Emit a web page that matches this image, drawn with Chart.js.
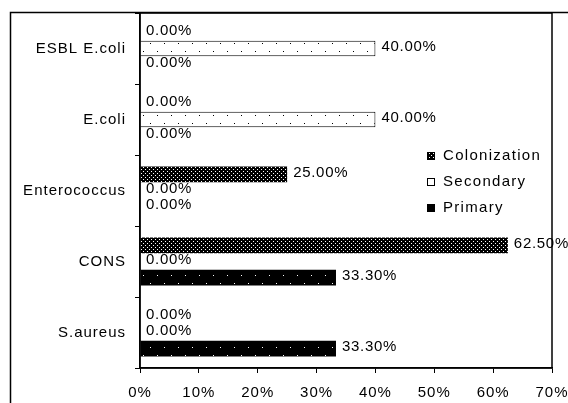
<!DOCTYPE html>
<html>
<head>
<meta charset="utf-8">
<script src="https://cdn.jsdelivr.net/npm/chart.js@4"></script>
<style>
html,body{margin:0;padding:0;background:#fff;}
#wrap{width:568px;height:403px;}
</style>
</head>
<body>
<div id="wrap"><canvas id="c" width="568" height="403"></canvas></div>
<script>
const categories = ["ESBL E.coli", "E.coli", "Enterococcus", "CONS", "S.aureus"];
const seriesNames = ["Colonization", "Secondary", "Primary"];
const colonization = [0, 0, 25, 62.5, 0];
const secondary = [40, 40, 0, 0, 0];
const primary = [0, 0, 0, 33.3, 33.3];
const xTicks = [0, 10, 20, 30, 40, 50, 60, 70];

function makePattern(w, h, bg, fg, dots) {
  const c = document.createElement('canvas');
  c.width = w; c.height = h;
  const g = c.getContext('2d');
  g.fillStyle = bg; g.fillRect(0, 0, w, h);
  g.fillStyle = fg;
  dots.forEach(d => g.fillRect(d[0], d[1], 1, 1));
  return document.getElementById('c').getContext('2d').createPattern(c, 'repeat');
}
const patColon = makePattern(4, 4, '#000', '#fff', [[1,1],[3,3]]);
const patSec = makePattern(14, 16, '#fff', '#000', [[3,3],[10,11]]);
const patPrim = makePattern(14, 16, '#000', '#fff', [[3,3],[10,11]]);
const fills = [patColon, patSec, patPrim];

Chart.defaults.font.family = "'Liberation Sans', Arial, sans-serif";
Chart.defaults.font.size = 15;
Chart.defaults.color = '#000';

const labelPlugin = {
  id: 'labels',
  beforeDraw(chart) {
    const ctx = chart.ctx;
    ctx.save();
    ctx.strokeStyle = '#000';
    ctx.lineWidth = 1.5;
    ctx.strokeRect(10.5, 12.5, 700, 700);
    ctx.restore();
    ctx.letterSpacing = '1px';
  },
  afterDatasetsDraw(chart) {
    const ctx = chart.ctx;
    ctx.save();
    ctx.font = "15px 'Liberation Sans', Arial, sans-serif";
    ctx.letterSpacing = '0.7px';
    ctx.fillStyle = '#000';
    ctx.textBaseline = 'middle';
    ctx.textAlign = 'left';
    chart.data.datasets.forEach((ds, di) => {
      const meta = chart.getDatasetMeta(di);
      meta.data.forEach((el, i) => {
        ctx.fillText(ds.data[i].toFixed(2) + '%', el.x + 6, el.y - 2);
      });
    });
    const a = chart.chartArea;
    ctx.strokeStyle = '#000';
    ctx.lineWidth = 1.5;
    ctx.strokeRect(a.left, a.top, a.right - a.left, a.bottom - a.top);
    // legend
    ctx.letterSpacing = '1.3px';
    const lx = 427, ly0 = 156, step = 26;
    chart.data.datasets.forEach((ds, di) => {
      const y = ly0 + di * step;
      ctx.fillStyle = ds.backgroundColor;
      ctx.fillRect(lx, y - 4, 8, 8);
      ctx.lineWidth = 1;
      ctx.strokeRect(lx + 0.5, y - 3.5, 7, 7);
      ctx.fillStyle = '#000';
      ctx.fillText(ds.label, lx + 16, y);
    });
    ctx.restore();
  }
};

new Chart(document.getElementById('c'), {
  type: 'bar',
  data: {
    labels: categories,
    datasets: [
      { label: seriesNames[0], data: colonization, backgroundColor: fills[0], borderColor: '#000', borderWidth: 0 },
      { label: seriesNames[1], data: secondary, backgroundColor: fills[1], borderColor: '#000', borderWidth: 1 },
      { label: seriesNames[2], data: primary, backgroundColor: fills[2], borderColor: '#000', borderWidth: 0 }
    ]
  },
  options: {
    indexAxis: 'y',
    responsive: false,
    animation: false,
    devicePixelRatio: 1,
    layout: { padding: { left: 10, top: 13, right: 16, bottom: 0 } },
    datasets: { bar: { categoryPercentage: 0.68, barPercentage: 0.97 } },
    plugins: { legend: { display: false }, tooltip: { enabled: false } },
    scales: {
      x: {
        min: 0, max: 70,
        afterBuildTicks(scale) { scale.ticks = xTicks.map(v => ({ value: v })); },
        afterFit(scale) { scale.height = 35; scale.paddingLeft = 0; scale.paddingRight = 0; },
        ticks: { callback: v => v + '%', padding: 11, maxRotation: 0 },
        grid: { drawOnChartArea: false, tickLength: 5, color: '#000' },
        border: { color: '#000', width: 1.5 }
      },
      y: {
        afterFit(scale) { scale.width = 130; scale.paddingTop = 0; scale.paddingBottom = 0; },
        ticks: { padding: 9 },
        grid: { offset: true, drawOnChartArea: false, tickLength: 5, color: '#000' },
        border: { color: '#000', width: 1.5 }
      }
    }
  },
  plugins: [labelPlugin]
});
</script>
</body>
</html>
